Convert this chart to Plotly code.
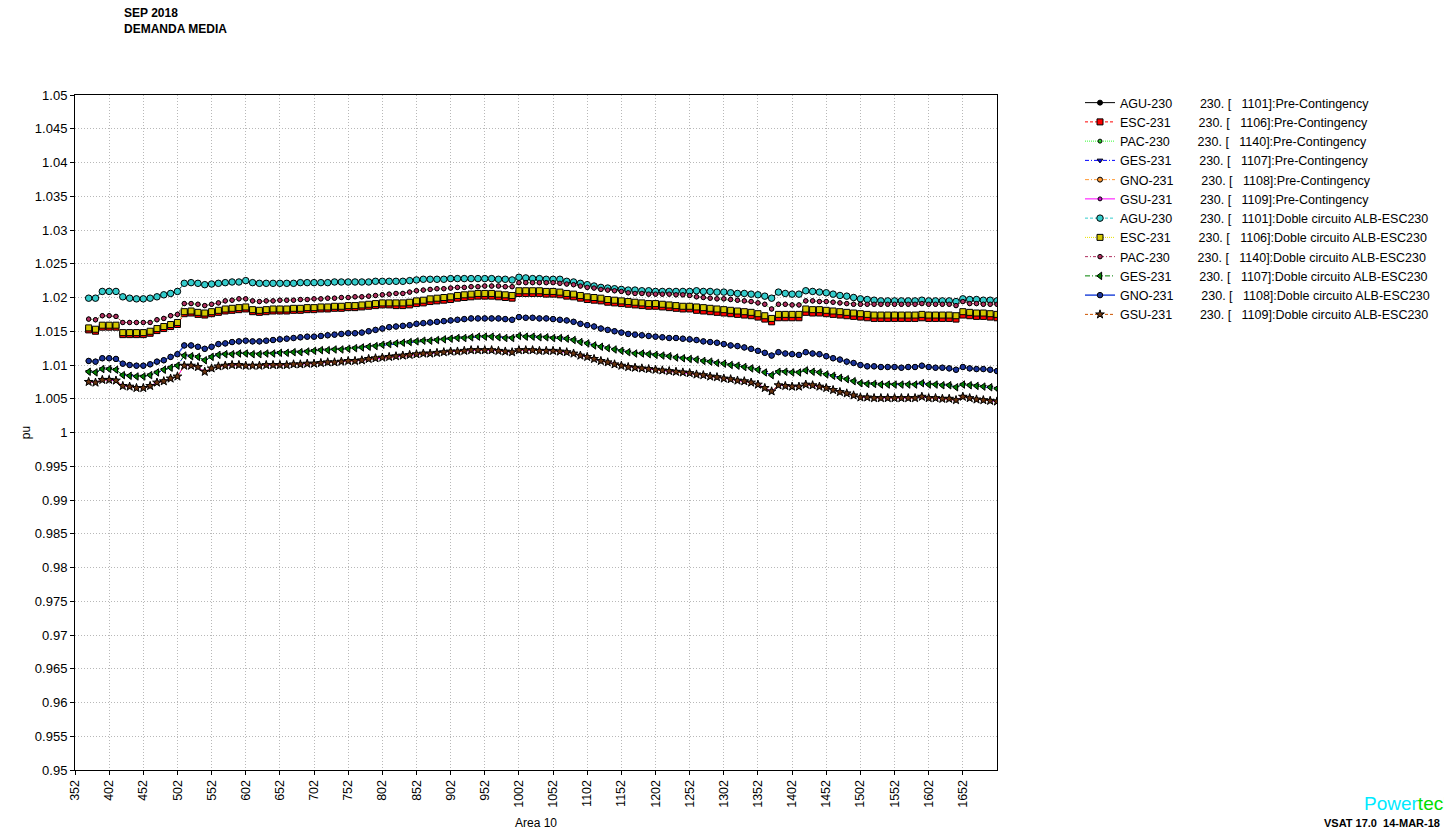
import plotly.graph_objects as go

# Area 10 sweep points (MW)
X_AREA10 = [
    372, 382, 392, 402, 412, 422, 432, 442, 452, 462,
    472, 482, 492, 502, 512, 522, 532, 542, 552, 562,
    572, 582, 592, 602, 612, 622, 632, 642, 652, 662,
    672, 682, 692, 702, 712, 722, 732, 742, 752, 762,
    772, 782, 792, 802, 812, 822, 832, 842, 852, 862,
    872, 882, 892, 902, 912, 922, 932, 942, 952, 962,
    972, 982, 992, 1002, 1012, 1022, 1032, 1042, 1052, 1062,
    1072, 1082, 1092, 1102, 1112, 1122, 1132, 1142, 1152, 1162,
    1172, 1182, 1192, 1202, 1212, 1222, 1232, 1242, 1252, 1262,
    1272, 1282, 1292, 1302, 1312, 1322, 1332, 1342, 1352, 1362,
    1372, 1382, 1392, 1402, 1412, 1422, 1432, 1442, 1452, 1462,
    1472, 1482, 1492, 1502, 1512, 1522, 1532, 1542, 1552, 1562,
    1572, 1582, 1592, 1602, 1612, 1622, 1632, 1642, 1652, 1662,
    1672, 1682, 1692, 1702,
]

# ---- Pre-Contingency bus voltages (pu) ----
AGU230_PRE = [
    1.0199, 1.0199, 1.0209, 1.0209, 1.0209, 1.0201, 1.0199, 1.0198, 1.0198, 1.0199,
    1.0201, 1.0204, 1.0206, 1.0209, 1.0221, 1.0222, 1.0221, 1.0219, 1.0220, 1.0221,
    1.0222, 1.0223, 1.0223, 1.0225, 1.0222, 1.0221, 1.0221, 1.0221, 1.0221, 1.0221,
    1.0221, 1.0222, 1.0222, 1.0222, 1.0222, 1.0222, 1.0223, 1.0223, 1.0223, 1.0223,
    1.0223, 1.0223, 1.0224, 1.0224, 1.0224, 1.0224, 1.0224, 1.0225, 1.0226, 1.0227,
    1.0227, 1.0227, 1.0227, 1.0228, 1.0228, 1.0228, 1.0228, 1.0228, 1.0228, 1.0228,
    1.0227, 1.0227, 1.0226, 1.0230, 1.0229, 1.0228, 1.0228, 1.0227, 1.0227, 1.0227,
    1.0224, 1.0223, 1.0221, 1.0219, 1.0217, 1.0215, 1.0214, 1.0213, 1.0212, 1.0211,
    1.0211, 1.0210, 1.0210, 1.0209, 1.0209, 1.0209, 1.0209, 1.0209, 1.0209, 1.0210,
    1.0209, 1.0209, 1.0208, 1.0208, 1.0207, 1.0206, 1.0206, 1.0205, 1.0204, 1.0202,
    1.0199, 1.0208, 1.0206, 1.0205, 1.0205, 1.0210, 1.0209, 1.0208, 1.0207, 1.0205,
    1.0203, 1.0202, 1.0200, 1.0198, 1.0197, 1.0196, 1.0195, 1.0195, 1.0195, 1.0195,
    1.0195, 1.0195, 1.0196, 1.0195, 1.0195, 1.0195, 1.0195, 1.0194, 1.0198, 1.0197,
    1.0197, 1.0196, 1.0196, 1.0195,
]
ESC231_PRE = [
    1.0152, 1.0150, 1.0156, 1.0156, 1.0156, 1.0145, 1.0145, 1.0145, 1.0145, 1.0147,
    1.0151, 1.0154, 1.0157, 1.0160, 1.0176, 1.0177, 1.0175, 1.0174, 1.0176, 1.0178,
    1.0180, 1.0181, 1.0182, 1.0183, 1.0179, 1.0178, 1.0179, 1.0180, 1.0180, 1.0180,
    1.0181, 1.0181, 1.0182, 1.0182, 1.0183, 1.0183, 1.0184, 1.0184, 1.0185, 1.0185,
    1.0186, 1.0187, 1.0188, 1.0189, 1.0189, 1.0188, 1.0188, 1.0189, 1.0191, 1.0192,
    1.0194, 1.0195, 1.0196, 1.0197, 1.0199, 1.0200, 1.0201, 1.0202, 1.0202, 1.0202,
    1.0201, 1.0200, 1.0199, 1.0206, 1.0206, 1.0206, 1.0206, 1.0205, 1.0205, 1.0204,
    1.0202, 1.0201, 1.0199, 1.0197, 1.0196, 1.0195, 1.0193, 1.0192, 1.0191, 1.0190,
    1.0189, 1.0188, 1.0187, 1.0187, 1.0186, 1.0185, 1.0184, 1.0183, 1.0183, 1.0181,
    1.0180, 1.0179, 1.0178, 1.0177, 1.0176, 1.0175, 1.0174, 1.0173, 1.0171, 1.0168,
    1.0164, 1.0170, 1.0170, 1.0170, 1.0170, 1.0178, 1.0177, 1.0177, 1.0176, 1.0175,
    1.0174, 1.0173, 1.0172, 1.0171, 1.0170, 1.0169, 1.0169, 1.0169, 1.0169, 1.0169,
    1.0169, 1.0169, 1.0170, 1.0169, 1.0169, 1.0169, 1.0169, 1.0168, 1.0174, 1.0173,
    1.0172, 1.0172, 1.0171, 1.0170,
]
PAC230_PRE = [
    1.0168, 1.0167, 1.0173, 1.0173, 1.0172, 1.0163, 1.0163, 1.0163, 1.0163, 1.0163,
    1.0167, 1.0169, 1.0173, 1.0175, 1.0191, 1.0191, 1.0190, 1.0188, 1.0190, 1.0192,
    1.0195, 1.0196, 1.0198, 1.0198, 1.0195, 1.0194, 1.0195, 1.0195, 1.0196, 1.0196,
    1.0196, 1.0197, 1.0197, 1.0198, 1.0198, 1.0199, 1.0199, 1.0200, 1.0200, 1.0201,
    1.0201, 1.0202, 1.0203, 1.0204, 1.0205, 1.0206, 1.0206, 1.0208, 1.0210, 1.0211,
    1.0212, 1.0213, 1.0213, 1.0214, 1.0215, 1.0215, 1.0216, 1.0216, 1.0217, 1.0217,
    1.0217, 1.0216, 1.0216, 1.0222, 1.0222, 1.0222, 1.0222, 1.0222, 1.0222, 1.0221,
    1.0220, 1.0219, 1.0217, 1.0215, 1.0214, 1.0212, 1.0211, 1.0210, 1.0209, 1.0207,
    1.0206, 1.0206, 1.0205, 1.0205, 1.0205, 1.0205, 1.0204, 1.0204, 1.0203, 1.0201,
    1.0200, 1.0199, 1.0198, 1.0198, 1.0197, 1.0196, 1.0195, 1.0194, 1.0192, 1.0190,
    1.0183, 1.0190, 1.0190, 1.0189, 1.0189, 1.0195, 1.0195, 1.0194, 1.0194, 1.0193,
    1.0192, 1.0191, 1.0190, 1.0190, 1.0190, 1.0190, 1.0190, 1.0190, 1.0190, 1.0190,
    1.0190, 1.0190, 1.0191, 1.0190, 1.0190, 1.0190, 1.0190, 1.0188, 1.0194, 1.0191,
    1.0191, 1.0190, 1.0190, 1.0190,
]
GES231_PRE = [
    1.0090, 1.0089, 1.0094, 1.0094, 1.0093, 1.0085, 1.0084, 1.0083, 1.0083, 1.0085,
    1.0089, 1.0093, 1.0096, 1.0099, 1.0114, 1.0113, 1.0112, 1.0107, 1.0112, 1.0115,
    1.0116, 1.0116, 1.0117, 1.0117, 1.0116, 1.0116, 1.0117, 1.0117, 1.0118, 1.0118,
    1.0119, 1.0119, 1.0120, 1.0121, 1.0122, 1.0122, 1.0123, 1.0123, 1.0124, 1.0125,
    1.0126, 1.0127, 1.0128, 1.0130, 1.0131, 1.0132, 1.0133, 1.0134, 1.0135, 1.0136,
    1.0136, 1.0137, 1.0138, 1.0139, 1.0140, 1.0140, 1.0141, 1.0142, 1.0142, 1.0142,
    1.0141, 1.0140, 1.0140, 1.0143, 1.0142, 1.0142, 1.0141, 1.0141, 1.0140, 1.0140,
    1.0139, 1.0137, 1.0134, 1.0132, 1.0129, 1.0127, 1.0125, 1.0123, 1.0121, 1.0119,
    1.0117, 1.0117, 1.0116, 1.0115, 1.0114, 1.0113, 1.0111, 1.0110, 1.0109, 1.0108,
    1.0106, 1.0105, 1.0103, 1.0102, 1.0100, 1.0099, 1.0097, 1.0095, 1.0093, 1.0089,
    1.0085, 1.0090, 1.0090, 1.0089, 1.0089, 1.0092, 1.0090, 1.0089, 1.0086, 1.0084,
    1.0081, 1.0079, 1.0076, 1.0073, 1.0072, 1.0072, 1.0071, 1.0071, 1.0071, 1.0071,
    1.0071, 1.0071, 1.0073, 1.0071, 1.0071, 1.0070, 1.0070, 1.0067, 1.0071, 1.0070,
    1.0069, 1.0068, 1.0067, 1.0065,
]
GNO231_PRE = [
    1.0106, 1.0105, 1.0110, 1.0110, 1.0109, 1.0102, 1.0100, 1.0099, 1.0099, 1.0101,
    1.0105, 1.0107, 1.0112, 1.0116, 1.0129, 1.0129, 1.0127, 1.0124, 1.0127, 1.0131,
    1.0132, 1.0134, 1.0135, 1.0136, 1.0135, 1.0135, 1.0136, 1.0137, 1.0138, 1.0139,
    1.0140, 1.0141, 1.0142, 1.0142, 1.0143, 1.0144, 1.0145, 1.0146, 1.0147, 1.0147,
    1.0148, 1.0150, 1.0152, 1.0154, 1.0156, 1.0157, 1.0158, 1.0159, 1.0161, 1.0162,
    1.0163, 1.0164, 1.0165, 1.0166, 1.0167, 1.0168, 1.0169, 1.0169, 1.0169, 1.0169,
    1.0169, 1.0168, 1.0167, 1.0171, 1.0170, 1.0170, 1.0169, 1.0169, 1.0168, 1.0167,
    1.0166, 1.0164, 1.0161, 1.0159, 1.0157, 1.0154, 1.0152, 1.0150, 1.0148, 1.0146,
    1.0145, 1.0144, 1.0143, 1.0142, 1.0141, 1.0140, 1.0140, 1.0139, 1.0138, 1.0137,
    1.0135, 1.0134, 1.0133, 1.0131, 1.0129, 1.0128, 1.0126, 1.0124, 1.0121, 1.0118,
    1.0114, 1.0119, 1.0117, 1.0116, 1.0115, 1.0119, 1.0117, 1.0116, 1.0113, 1.0110,
    1.0108, 1.0105, 1.0103, 1.0100, 1.0098, 1.0098, 1.0097, 1.0097, 1.0097, 1.0096,
    1.0097, 1.0097, 1.0099, 1.0097, 1.0096, 1.0096, 1.0095, 1.0093, 1.0097, 1.0095,
    1.0094, 1.0094, 1.0093, 1.0091,
]
GSU231_PRE = [
    1.0075, 1.0074, 1.0078, 1.0078, 1.0077, 1.0069, 1.0068, 1.0066, 1.0066, 1.0069,
    1.0074, 1.0076, 1.0080, 1.0083, 1.0099, 1.0099, 1.0097, 1.0090, 1.0095, 1.0098,
    1.0099, 1.0100, 1.0100, 1.0099, 1.0099, 1.0099, 1.0100, 1.0100, 1.0100, 1.0100,
    1.0101, 1.0101, 1.0102, 1.0102, 1.0103, 1.0104, 1.0104, 1.0105, 1.0106, 1.0106,
    1.0107, 1.0109, 1.0110, 1.0111, 1.0112, 1.0113, 1.0114, 1.0115, 1.0116, 1.0117,
    1.0117, 1.0118, 1.0119, 1.0120, 1.0120, 1.0121, 1.0122, 1.0122, 1.0122, 1.0122,
    1.0121, 1.0120, 1.0119, 1.0122, 1.0122, 1.0122, 1.0121, 1.0121, 1.0121, 1.0120,
    1.0119, 1.0117, 1.0114, 1.0112, 1.0109, 1.0106, 1.0104, 1.0101, 1.0099, 1.0097,
    1.0096, 1.0095, 1.0094, 1.0093, 1.0092, 1.0091, 1.0090, 1.0089, 1.0088, 1.0086,
    1.0085, 1.0083, 1.0082, 1.0080, 1.0079, 1.0077, 1.0076, 1.0074, 1.0071, 1.0066,
    1.0061, 1.0070, 1.0069, 1.0068, 1.0068, 1.0071, 1.0070, 1.0068, 1.0066, 1.0063,
    1.0060, 1.0058, 1.0055, 1.0052, 1.0052, 1.0051, 1.0051, 1.0051, 1.0051, 1.0051,
    1.0051, 1.0051, 1.0053, 1.0051, 1.0051, 1.0050, 1.0050, 1.0048, 1.0053, 1.0051,
    1.0049, 1.0048, 1.0047, 1.0046,
]

# ---- Doble circuito ALB-ESC230 contingency bus voltages (pu) ----
AGU230_ALB = [
    1.0199, 1.0199, 1.0209, 1.0209, 1.0209, 1.0201, 1.0199, 1.0198, 1.0198, 1.0199,
    1.0201, 1.0204, 1.0206, 1.0209, 1.0221, 1.0222, 1.0221, 1.0219, 1.0220, 1.0221,
    1.0222, 1.0223, 1.0223, 1.0225, 1.0222, 1.0221, 1.0221, 1.0221, 1.0221, 1.0221,
    1.0221, 1.0222, 1.0222, 1.0222, 1.0222, 1.0222, 1.0223, 1.0223, 1.0223, 1.0223,
    1.0223, 1.0223, 1.0224, 1.0224, 1.0224, 1.0224, 1.0224, 1.0225, 1.0226, 1.0227,
    1.0227, 1.0227, 1.0227, 1.0228, 1.0228, 1.0228, 1.0228, 1.0228, 1.0228, 1.0228,
    1.0227, 1.0227, 1.0226, 1.0230, 1.0229, 1.0228, 1.0228, 1.0227, 1.0227, 1.0227,
    1.0224, 1.0223, 1.0221, 1.0219, 1.0217, 1.0215, 1.0214, 1.0213, 1.0212, 1.0211,
    1.0211, 1.0210, 1.0210, 1.0209, 1.0209, 1.0209, 1.0209, 1.0209, 1.0209, 1.0210,
    1.0209, 1.0209, 1.0208, 1.0208, 1.0207, 1.0206, 1.0206, 1.0205, 1.0204, 1.0202,
    1.0199, 1.0208, 1.0206, 1.0205, 1.0205, 1.0210, 1.0209, 1.0208, 1.0207, 1.0205,
    1.0203, 1.0202, 1.0200, 1.0198, 1.0197, 1.0196, 1.0195, 1.0195, 1.0195, 1.0195,
    1.0195, 1.0195, 1.0196, 1.0195, 1.0195, 1.0195, 1.0195, 1.0194, 1.0198, 1.0197,
    1.0197, 1.0196, 1.0196, 1.0195,
]
ESC231_ALB = [
    1.0155, 1.0153, 1.0159, 1.0159, 1.0159, 1.0148, 1.0148, 1.0148, 1.0148, 1.0150,
    1.0154, 1.0157, 1.0160, 1.0163, 1.0179, 1.0180, 1.0178, 1.0177, 1.0179, 1.0181,
    1.0183, 1.0184, 1.0185, 1.0186, 1.0182, 1.0181, 1.0182, 1.0183, 1.0183, 1.0183,
    1.0184, 1.0184, 1.0185, 1.0185, 1.0186, 1.0186, 1.0187, 1.0187, 1.0188, 1.0188,
    1.0189, 1.0190, 1.0191, 1.0192, 1.0192, 1.0192, 1.0192, 1.0193, 1.0195, 1.0196,
    1.0198, 1.0199, 1.0200, 1.0201, 1.0203, 1.0204, 1.0205, 1.0206, 1.0206, 1.0206,
    1.0205, 1.0204, 1.0203, 1.0210, 1.0210, 1.0210, 1.0210, 1.0209, 1.0209, 1.0208,
    1.0206, 1.0205, 1.0203, 1.0201, 1.0200, 1.0199, 1.0197, 1.0196, 1.0195, 1.0194,
    1.0193, 1.0192, 1.0191, 1.0191, 1.0190, 1.0189, 1.0188, 1.0187, 1.0187, 1.0186,
    1.0185, 1.0184, 1.0183, 1.0182, 1.0181, 1.0180, 1.0179, 1.0178, 1.0176, 1.0173,
    1.0169, 1.0175, 1.0175, 1.0175, 1.0175, 1.0183, 1.0182, 1.0182, 1.0181, 1.0180,
    1.0179, 1.0178, 1.0177, 1.0176, 1.0175, 1.0174, 1.0174, 1.0174, 1.0174, 1.0174,
    1.0174, 1.0174, 1.0175, 1.0174, 1.0174, 1.0174, 1.0174, 1.0173, 1.0179, 1.0178,
    1.0177, 1.0177, 1.0176, 1.0175,
]
PAC230_ALB = [
    1.0168, 1.0167, 1.0173, 1.0173, 1.0172, 1.0163, 1.0163, 1.0163, 1.0163, 1.0163,
    1.0167, 1.0169, 1.0173, 1.0175, 1.0191, 1.0191, 1.0190, 1.0188, 1.0190, 1.0192,
    1.0195, 1.0196, 1.0198, 1.0198, 1.0195, 1.0194, 1.0195, 1.0195, 1.0196, 1.0196,
    1.0196, 1.0197, 1.0197, 1.0198, 1.0198, 1.0199, 1.0199, 1.0200, 1.0200, 1.0201,
    1.0201, 1.0202, 1.0203, 1.0204, 1.0205, 1.0206, 1.0206, 1.0208, 1.0210, 1.0211,
    1.0212, 1.0213, 1.0213, 1.0214, 1.0215, 1.0215, 1.0216, 1.0216, 1.0217, 1.0217,
    1.0217, 1.0216, 1.0216, 1.0222, 1.0222, 1.0222, 1.0222, 1.0222, 1.0222, 1.0221,
    1.0220, 1.0219, 1.0217, 1.0215, 1.0214, 1.0212, 1.0211, 1.0210, 1.0209, 1.0207,
    1.0206, 1.0206, 1.0205, 1.0205, 1.0205, 1.0205, 1.0204, 1.0204, 1.0203, 1.0201,
    1.0200, 1.0199, 1.0198, 1.0198, 1.0197, 1.0196, 1.0195, 1.0194, 1.0192, 1.0190,
    1.0183, 1.0190, 1.0190, 1.0189, 1.0189, 1.0195, 1.0195, 1.0194, 1.0194, 1.0193,
    1.0192, 1.0191, 1.0190, 1.0190, 1.0190, 1.0190, 1.0190, 1.0190, 1.0190, 1.0190,
    1.0190, 1.0190, 1.0191, 1.0190, 1.0190, 1.0190, 1.0190, 1.0188, 1.0194, 1.0191,
    1.0191, 1.0190, 1.0190, 1.0190,
]
GES231_ALB = [
    1.0090, 1.0089, 1.0094, 1.0094, 1.0093, 1.0085, 1.0084, 1.0083, 1.0083, 1.0085,
    1.0089, 1.0093, 1.0096, 1.0099, 1.0114, 1.0113, 1.0112, 1.0107, 1.0112, 1.0115,
    1.0116, 1.0116, 1.0117, 1.0117, 1.0116, 1.0116, 1.0117, 1.0117, 1.0118, 1.0118,
    1.0119, 1.0119, 1.0120, 1.0121, 1.0122, 1.0122, 1.0123, 1.0123, 1.0124, 1.0125,
    1.0126, 1.0127, 1.0128, 1.0130, 1.0131, 1.0132, 1.0133, 1.0134, 1.0135, 1.0136,
    1.0136, 1.0137, 1.0138, 1.0139, 1.0140, 1.0140, 1.0141, 1.0142, 1.0142, 1.0142,
    1.0141, 1.0140, 1.0140, 1.0143, 1.0142, 1.0142, 1.0141, 1.0141, 1.0140, 1.0140,
    1.0139, 1.0137, 1.0134, 1.0132, 1.0129, 1.0127, 1.0125, 1.0123, 1.0121, 1.0119,
    1.0117, 1.0117, 1.0116, 1.0115, 1.0114, 1.0113, 1.0111, 1.0110, 1.0109, 1.0108,
    1.0106, 1.0105, 1.0103, 1.0102, 1.0100, 1.0099, 1.0097, 1.0095, 1.0093, 1.0089,
    1.0085, 1.0090, 1.0090, 1.0089, 1.0089, 1.0092, 1.0090, 1.0089, 1.0086, 1.0084,
    1.0081, 1.0079, 1.0076, 1.0073, 1.0072, 1.0072, 1.0071, 1.0071, 1.0071, 1.0071,
    1.0071, 1.0071, 1.0073, 1.0071, 1.0071, 1.0070, 1.0070, 1.0067, 1.0071, 1.0070,
    1.0069, 1.0068, 1.0067, 1.0065,
]
GNO231_ALB = [
    1.0106, 1.0105, 1.0110, 1.0110, 1.0109, 1.0102, 1.0100, 1.0099, 1.0099, 1.0101,
    1.0105, 1.0107, 1.0112, 1.0116, 1.0129, 1.0129, 1.0127, 1.0124, 1.0127, 1.0131,
    1.0132, 1.0134, 1.0135, 1.0136, 1.0135, 1.0135, 1.0136, 1.0137, 1.0138, 1.0139,
    1.0140, 1.0141, 1.0142, 1.0142, 1.0143, 1.0144, 1.0145, 1.0146, 1.0147, 1.0147,
    1.0148, 1.0150, 1.0152, 1.0154, 1.0156, 1.0157, 1.0158, 1.0159, 1.0161, 1.0162,
    1.0163, 1.0164, 1.0165, 1.0166, 1.0167, 1.0168, 1.0169, 1.0169, 1.0169, 1.0169,
    1.0169, 1.0168, 1.0167, 1.0171, 1.0170, 1.0170, 1.0169, 1.0169, 1.0168, 1.0167,
    1.0166, 1.0164, 1.0161, 1.0159, 1.0157, 1.0154, 1.0152, 1.0150, 1.0148, 1.0146,
    1.0145, 1.0144, 1.0143, 1.0142, 1.0141, 1.0140, 1.0140, 1.0139, 1.0138, 1.0137,
    1.0135, 1.0134, 1.0133, 1.0131, 1.0129, 1.0128, 1.0126, 1.0124, 1.0121, 1.0118,
    1.0114, 1.0119, 1.0117, 1.0116, 1.0115, 1.0119, 1.0117, 1.0116, 1.0113, 1.0110,
    1.0108, 1.0105, 1.0103, 1.0100, 1.0098, 1.0098, 1.0097, 1.0097, 1.0097, 1.0096,
    1.0097, 1.0097, 1.0099, 1.0097, 1.0096, 1.0096, 1.0095, 1.0093, 1.0097, 1.0095,
    1.0094, 1.0094, 1.0093, 1.0091,
]
GSU231_ALB = [
    1.0075, 1.0074, 1.0078, 1.0078, 1.0077, 1.0069, 1.0068, 1.0066, 1.0066, 1.0069,
    1.0074, 1.0076, 1.0080, 1.0083, 1.0099, 1.0099, 1.0097, 1.0090, 1.0095, 1.0098,
    1.0099, 1.0100, 1.0100, 1.0099, 1.0099, 1.0099, 1.0100, 1.0100, 1.0100, 1.0100,
    1.0101, 1.0101, 1.0102, 1.0102, 1.0103, 1.0104, 1.0104, 1.0105, 1.0106, 1.0106,
    1.0107, 1.0109, 1.0110, 1.0111, 1.0112, 1.0113, 1.0114, 1.0115, 1.0116, 1.0117,
    1.0117, 1.0118, 1.0119, 1.0120, 1.0120, 1.0121, 1.0122, 1.0122, 1.0122, 1.0122,
    1.0121, 1.0120, 1.0119, 1.0122, 1.0122, 1.0122, 1.0121, 1.0121, 1.0121, 1.0120,
    1.0119, 1.0117, 1.0114, 1.0112, 1.0109, 1.0106, 1.0104, 1.0101, 1.0099, 1.0097,
    1.0096, 1.0095, 1.0094, 1.0093, 1.0092, 1.0091, 1.0090, 1.0089, 1.0088, 1.0086,
    1.0085, 1.0083, 1.0082, 1.0080, 1.0079, 1.0077, 1.0076, 1.0074, 1.0071, 1.0066,
    1.0061, 1.0070, 1.0069, 1.0068, 1.0068, 1.0071, 1.0070, 1.0068, 1.0066, 1.0063,
    1.0060, 1.0058, 1.0055, 1.0052, 1.0052, 1.0051, 1.0051, 1.0051, 1.0051, 1.0051,
    1.0051, 1.0051, 1.0053, 1.0051, 1.0051, 1.0050, 1.0050, 1.0048, 1.0053, 1.0051,
    1.0049, 1.0048, 1.0047, 1.0046,
]

BUS_NAMES = ["AGU-230", "ESC-231", "PAC-230", "GES-231", "GNO-231", "GSU-231"]
BUS_NUMBERS = [1101, 1106, 1140, 1107, 1108, 1109]
CASES = ["Pre-Contingency", "Doble circuito ALB-ESC230"]

X_TICKS = [352, 402, 452, 502, 552, 602, 652, 702, 752, 802, 852, 902, 952, 1002,
           1052, 1102, 1152, 1202, 1252, 1302, 1352, 1402, 1452, 1502, 1552, 1602, 1652]
Y_TICKS = [0.95, 0.955, 0.96, 0.965, 0.97, 0.975, 0.98, 0.985, 0.99, 0.995, 1.0,
           1.005, 1.01, 1.015, 1.02, 1.025, 1.03, 1.035, 1.04, 1.045, 1.05]
Y_LABELS = ["0.95", "0.955", "0.96", "0.965", "0.97", "0.975", "0.98", "0.985", "0.99",
            "0.995", "1", "1.005", "1.01", "1.015", "1.02", "1.025", "1.03", "1.035",
            "1.04", "1.045", "1.05"]

PRE_VALUES = [AGU230_PRE, ESC231_PRE, PAC230_PRE, GES231_PRE, GNO231_PRE, GSU231_PRE]
ALB_VALUES = [AGU230_ALB, ESC231_ALB, PAC230_ALB, GES231_ALB, GNO231_ALB, GSU231_ALB]

# line colour, dash, line width, marker symbol, marker fill, marker size
PRE_STYLE = [
    ("#000000", "solid", 1, "circle", "#000000", 5),
    ("#ff0000", "3px,2px", 1, "square", "#ff0000", 6),
    ("#33ff33", "1px,1px", 1, "circle", "#22cc22", 4),
    ("#0000ff", "4px,2px,1px,2px", 1, "triangle-down", "#0000ff", 5),
    ("#ff9933", "4px,2px,1px,2px", 1, "circle", "#ff9933", 5),
    ("#ff00ff", "solid", 1, "circle", "#cc00cc", 4),
]
ALB_STYLE = [
    ("#33cccc", "3px,2px", 1, "circle", "#33cccc", 6.5),
    ("#e8e000", "1px,1px", 1, "square", "#d4c800", 6),
    ("#b03060", "3px,2px,1px,2px", 1, "circle", "#b03060", 4.5),
    ("#008000", "5px,2px,1px,2px", 1, "triangle-left", "#008000", 6.5),
    ("#3355dd", "solid", 1.6, "circle", "#1a3399", 5.5),
    ("#cc5500", "3px,2px", 1, "star", "#6b3510", 6.5),
]

NB = "\u00a0"


def legend_label(bus, number, case):
    return f"{bus}{NB * 8}230. [{NB * 3}{number}]:{case}"


fig = go.Figure()

for values_set, style_set, case in ((PRE_VALUES, PRE_STYLE, CASES[0]),
                                    (ALB_VALUES, ALB_STYLE, CASES[1])):
    for bus, number, values, st in zip(BUS_NAMES, BUS_NUMBERS, values_set, style_set):
        lcolor, dash, lwidth, symbol, mfill, msize = st
        fig.add_trace(go.Scatter(
            x=X_AREA10,
            y=values,
            mode="lines+markers",
            name=legend_label(bus, number, case),
            line=dict(color=lcolor, dash=dash, width=lwidth),
            marker=dict(symbol=symbol, color=mfill, size=msize,
                        line=dict(color="#000000", width=1)),
        ))

FONT = "Liberation Sans, Arial, sans-serif"
PLOT_L, PLOT_R, PLOT_T, PLOT_B = 75, 997, 95, 770
W, H = 1444, 830


def px_x(px):
    return (px - PLOT_L) / (PLOT_R - PLOT_L)


def px_y(py):
    return (PLOT_B - py) / (PLOT_B - PLOT_T)


axis_common = dict(
    showline=True, linecolor="#000000", linewidth=1, mirror=True,
    ticks="outside", ticklen=4, tickcolor="#000000", tickwidth=1,
    showgrid=True, gridcolor="#b8b8b8", gridwidth=1, griddash="1px,2px",
    zeroline=False,
)

fig.update_layout(
    width=W, height=H,
    paper_bgcolor="#ffffff", plot_bgcolor="#ffffff",
    margin=dict(l=PLOT_L, r=W - PLOT_R, t=PLOT_T, b=H - PLOT_B, autoexpand=False),
    font=dict(family=FONT, size=12, color="#000000"),
    xaxis=dict(
        range=[352, 1702], tickmode="array", tickvals=X_TICKS,
        ticktext=[str(v) for v in X_TICKS], tickangle=-90,
        tickfont=dict(family=FONT, size=12.5, color="#000000"),
        title=dict(text="Area 10", font=dict(family=FONT, size=12), standoff=12),
        **axis_common,
    ),
    yaxis=dict(
        range=[0.95, 1.05], tickmode="array", tickvals=Y_TICKS, ticktext=Y_LABELS,
        tickfont=dict(family=FONT, size=13, color="#000000"),
        title=dict(text="pu", font=dict(family=FONT, size=12), standoff=1),
        **axis_common,
    ),
    legend=dict(
        x=px_x(1080), y=px_y(88), xanchor="left", yanchor="top",
        font=dict(family=FONT, size=12.5, color="#000000"),
        bgcolor="rgba(0,0,0,0)", tracegroupgap=0, itemclick=False,
    ),
    showlegend=True,
    annotations=[
        dict(xref="paper", yref="paper", x=px_x(122), y=px_y(4),
             xanchor="left", yanchor="top", align="left", showarrow=False,
             text="<b>SEP 2018</b><br><b>DEMANDA MEDIA</b>",
             font=dict(family=FONT, size=12, color="#000000")),
        dict(xref="paper", yref="paper", x=px_x(1362), y=px_y(803),
             xanchor="left", yanchor="middle", showarrow=False,
             text="<span style='color:#00eaff'>Power</span><span style='color:#00dd00'>tech</span>",
             font=dict(family=FONT, size=19)),
        dict(xref="paper", yref="paper", x=px_x(1442), y=px_y(823),
             xanchor="right", yanchor="middle", showarrow=False,
             text="<b>VSAT 17.0  14-MAR-18</b>",
             font=dict(family=FONT, size=11, color="#000000")),
    ],
)

fig.write_html("out.html")
